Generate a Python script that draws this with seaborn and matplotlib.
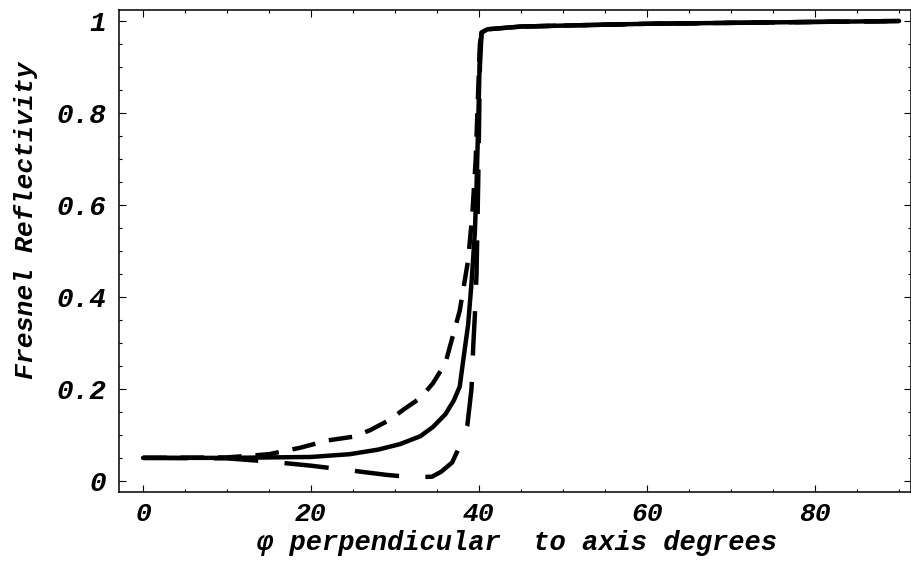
import numpy as np
import pandas as pd
import seaborn as sns
import matplotlib.pyplot as plt
from matplotlib.ticker import MultipleLocator

# Values (angle in degrees, reflectivity)
ang_avg = [0, 10, 15, 20, 24.6, 28, 30.6, 33, 34.5, 36, 37, 37.7, 38.1, 38.7, 39.1, 39.5, 39.7, 39.9, 40.1, 40.3, 41, 45, 60, 75, 90]
r_avg = [0.050, 0.050, 0.051, 0.052, 0.058, 0.068, 0.080, 0.097, 0.117, 0.145, 0.175, 0.205, 0.26, 0.34, 0.43, 0.54, 0.64, 0.78, 0.93, 0.975, 0.982, 0.988, 0.994, 0.997, 1.0]

ang_s = [0, 10, 15, 18.7, 22, 25, 27, 29.4, 31, 33, 34.5, 36, 36.5, 37.7, 38.7, 39.2, 39.6, 39.9, 40.1, 40.3, 41, 45, 60, 75, 90]
r_s = [0.050, 0.051, 0.058, 0.072, 0.088, 0.096, 0.110, 0.133, 0.155, 0.180, 0.212, 0.256, 0.29, 0.37, 0.48, 0.58, 0.70, 0.85, 0.95, 0.975, 0.982, 0.988, 0.994, 0.997, 1.0]

ang_p = [0, 10, 15, 20, 25, 29, 32, 34.4, 35.5, 36.8, 37.8, 38.6, 39.1, 39.3, 39.5, 39.7, 39.9, 40.1, 40.3, 41, 45, 60, 75, 90]
r_p = [0.050, 0.049, 0.042, 0.033, 0.022, 0.013, 0.008, 0.009, 0.020, 0.040, 0.080, 0.120, 0.20, 0.29, 0.36, 0.45, 0.65, 0.90, 0.975, 0.982, 0.988, 0.994, 0.997, 1.0]

ytick_vals = [0, 0.2, 0.4, 0.6, 0.8, 1.0]
ytick_text = ['0', '0.2', '0.4', '0.6', '0.8', '1']

df = pd.concat([
    pd.DataFrame({'angle': ang_s, 'R': r_s, 'pol': 's'}),
    pd.DataFrame({'angle': ang_p, 'R': r_p, 'pol': 'p'}),
    pd.DataFrame({'angle': ang_avg, 'R': r_avg, 'pol': 'avg'}),
])

sns.set_style('ticks', {'axes.edgecolor': 'black', 'text.color': 'black',
                        'axes.labelcolor': 'black', 'xtick.color': 'black',
                        'ytick.color': 'black'})
mono = ['Liberation Mono', 'DejaVu Sans Mono']
font = dict(fontfamily=mono, fontweight='bold', fontstyle='italic')

fig = plt.figure(figsize=(9.12, 5.7), dpi=100)
ax = fig.add_axes([0.1305, 0.137, 0.8685, 0.8455])

lw = 3.2
sns.lineplot(data=df, x='angle', y='R', style='pol', color='black', linewidth=lw,
             dashes={'avg': '', 's': (17 / lw, 10 / lw), 'p': (32 / lw, 19 / lw)},
             legend=False, ax=ax, sort=False, estimator=None)

ax.set_xlim(-2.86, 91.43)
ax.set_ylim(-0.024, 1.024)
ax.xaxis.set_major_locator(MultipleLocator(20))
ax.xaxis.set_minor_locator(MultipleLocator(5))
ax.yaxis.set_minor_locator(MultipleLocator(0.05))
ax.set_yticks(ytick_vals)
ax.set_yticklabels(ytick_text)
ax.tick_params(which='both', direction='in', top=True, right=True, width=0.8)
ax.tick_params(which='major', length=5)
ax.tick_params(which='minor', length=2.5)
ax.tick_params(axis='y', pad=9)
ax.tick_params(axis='x', pad=7)
for lab in ax.get_yticklabels():
    lab.set_fontsize(20)
for lab in ax.get_xticklabels():
    lab.set_fontsize(19)
for lab in ax.get_yticklabels() + ax.get_xticklabels():
    lab.set_fontfamily(mono)
    lab.set_fontweight('bold')
    lab.set_fontstyle('italic')
for sp in ax.spines.values():
    sp.set_linewidth(1.1)

ax.set_xlabel('\u03c6 perpendicular  to axis degrees', fontsize=19.5, va='top', **font)
ax.xaxis.set_label_coords(0.5025, -0.080)
ax.set_ylabel('Fresnel Reflectivity', fontsize=19, va='bottom', **font)
ax.yaxis.set_label_coords(-0.102, 0.564)

plt.savefig('out.png', dpi=100)
